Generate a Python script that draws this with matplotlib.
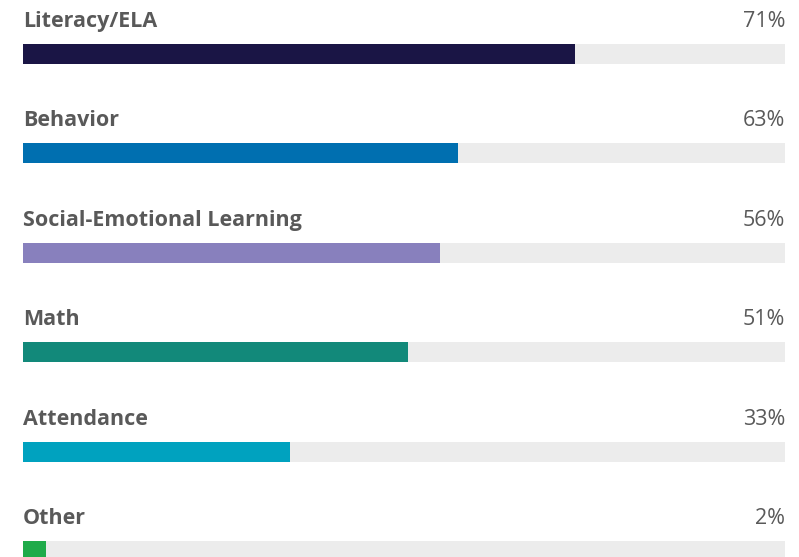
import matplotlib
matplotlib.use("Agg")
import matplotlib.pyplot as plt

# ---- data ---------------------------------------------------------------------
categories = ["Literacy/ELA", "Behavior", "Social-Emotional Learning", "Math", "Attendance", "Other"]
pct_labels = [71, 63, 56, 51, 33, 2]
# bar lengths as drawn in the picture (% of the grey track)
bar_lengths = [72.4, 57.1, 54.7, 50.5, 35.0, 3.0]
colors = ["#1a1545", "#006fb0", "#8880bd", "#12897a", "#00a2bf", "#1fab4a"]

TRACK = "#ececec"
TEXT = "#595959"

W, H = 799, 557
fig = plt.figure(figsize=(W / 100, H / 100), dpi=100)
# axes spans the grey track horizontally and the whole figure vertically
left, right = 23, 785
ax = fig.add_axes([left / W, 0, (right - left) / W, 1])
ax.set_xlim(0, 100)
step = 99.4
first = 54.0
ax.set_ylim((H - first) / step, -first / step)
ax.axis("off")

y = list(range(len(categories)))
bh = 20 / step
ax.barh(y, [100] * len(y), height=bh, color=TRACK, linewidth=0)
ax.barh(y, bar_lengths, height=bh, color=colors, linewidth=0)

off = 27 / step
for i, (cat, p) in enumerate(zip(categories, pct_labels)):
    ax.text(0, i - off, cat, ha="left", va="baseline", fontsize=15.5,
            fontweight="bold", color=TEXT, family="Open Sans")
    ax.text(100, i - off, f"{p}%", ha="right", va="baseline", fontsize=15.5,
            color=TEXT, family="Open Sans")

fig.savefig("out.png", dpi=100)
